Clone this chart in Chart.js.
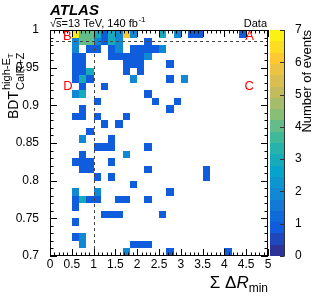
<!DOCTYPE html>
<html>
<head>
<meta charset="utf-8">
<script src="https://cdn.jsdelivr.net/npm/chart.js@4.4.1/dist/chart.umd.min.js"></script>
<style>
  html, body { margin: 0; padding: 0; background: #fff; }
</style>
</head>
<body>
<canvas id="c" width="319" height="304"></canvas>
<script>
(() => {
  'use strict'

  const F = '"Liberation Sans", Arial, Helvetica, sans-serif'

  // binning of the histogram
  const xMin = 0, xMax = 5, xStep = 5 / 30
  const yMin = 0.7, yMax = 1, yStep = 0.01
  const zMax = 7

  // filled bins: column index, row index, number of events
  const binX = [
    3, 4, 5, 6, 7, 8, 9, 10, 11, 15, 17, 19, 20, 26,
    3, 4, 5, 6, 7, 8, 9, 13,
    3, 5, 6, 8, 9, 11, 12, 13, 14, 15,
    3, 4, 8, 9, 10, 11, 12, 13,
    3, 4, 10, 11, 12, 16,
    3, 4, 5, 10, 12,
    3, 4, 5, 11, 16, 18,
    4, 7,
    3, 4, 13,
    6, 14, 17,
    4, 16,
    3, 4, 6, 10,
    7, 9,
    5,
    4, 8,
    6, 7, 8, 13,
    4, 10,
    3, 4, 5, 8,
    4, 5, 13, 21,
    6, 8, 21,
    11,
    3, 6, 16,
    3, 4, 5, 6, 9, 10, 13,
    3,
    7, 8, 9, 15,
    3,
    3, 4,
    4, 11, 12, 13,
    10, 16, 24
  ]
  const binY = [
    29, 29, 29, 29, 29, 29, 29, 29, 29, 29, 29, 29, 29, 29,
    28, 28, 28, 28, 28, 28, 28, 28,
    27, 27, 27, 27, 27, 27, 27, 27, 27, 27,
    26, 26, 26, 26, 26, 26, 26, 26,
    25, 25, 25, 25, 25, 25,
    24, 24, 24, 24, 24,
    23, 23, 23, 23, 23, 23,
    22, 22,
    21, 21, 21,
    20, 20, 20,
    19, 19,
    18, 18, 18, 18,
    17, 17,
    16,
    15, 15,
    14, 14, 14, 14,
    13, 13,
    12, 12, 12, 12,
    11, 11, 11, 11,
    10, 10, 10,
    9,
    8, 8, 8,
    7, 7, 7, 7, 7, 7, 7,
    6,
    5, 5, 5, 5,
    4,
    2, 2,
    1, 1, 1, 1,
    0, 0, 0
  ]
  const nEvents = [
    7, 4, 4, 3, 1, 3, 2, 6, 2, 3, 2, 1, 1, 1,
    2, 4, 4, 2, 1, 3, 2, 1,
    2, 1, 1, 1, 2, 1, 1, 1, 1, 2,
    1, 1, 1, 1, 1, 1, 1, 2,
    1, 1, 1, 1, 1, 1,
    1, 1, 3, 1, 1,
    1, 3, 1, 2, 1, 2,
    1, 1,
    2, 3, 1,
    1, 1, 1,
    1, 1,
    1, 1, 1, 1,
    1, 1,
    1,
    2, 1,
    1, 1, 1, 1,
    1, 2,
    1, 1, 1, 1,
    1, 1, 1, 1,
    1, 1, 1,
    1,
    2, 2, 1,
    1, 3, 1, 1, 1, 1, 1,
    1,
    1, 1, 1, 1,
    1,
    1, 2,
    2, 1, 1, 1,
    2, 1, 1
  ]

  // region labels
  const regionNames = ['A', 'B', 'C', 'D']
  const regionX = [4.58, 0.4, 4.57, 0.41]
  const regionY = [0.991, 0.991, 0.925, 0.925]

  // ROOT kBird palette
  const bird = [
    [0.2082, 0.1664, 0.5293], [0.0592, 0.3599, 0.8684], [0.0780, 0.5041, 0.8385],
    [0.0232, 0.6419, 0.7914], [0.1802, 0.7178, 0.6425], [0.5301, 0.7492, 0.4662],
    [0.8186, 0.7328, 0.3499], [0.9956, 0.7862, 0.1968], [0.9764, 0.9832, 0.0539]
  ]
  const nLevels = 20
  function birdColor (f) {
    f = Math.min(1, Math.max(0, f))
    const p = f * 8
    const k = Math.min(7, Math.floor(p))
    const t = p - k
    const a = bird[k], b = bird[k + 1]
    return 'rgb(' + [0, 1, 2].map(c => Math.round(255 * (a[c] + (b[c] - a[c]) * t))).join(',') + ')'
  }
  function levelColor (v) {
    const lvl = Math.min(nLevels - 1, Math.floor(v / zMax * nLevels - 1e-9))
    return birdColor((lvl + 0.5) / nLevels)
  }

  const points = binX.map((i, k) => ({
    x: xMin + (i + 0.5) * xStep,
    y: yMin + (binY[k] + 0.5) * yStep,
    v: nEvents[k]
  }))

  const fmt = v => String(+(+v).toFixed(2))

  const heatmap = {
    id: 'heatmap',
    beforeDatasetsDraw (chart) {
      const { ctx, scales: { x, y } } = chart
      ctx.save()
      chart.data.datasets[0].data.forEach(p => {
        const x0 = Math.round(x.getPixelForValue(p.x - xStep / 2))
        const x1 = Math.round(x.getPixelForValue(p.x + xStep / 2))
        const y0 = Math.round(y.getPixelForValue(p.y + yStep / 2))
        const y1 = Math.round(y.getPixelForValue(p.y - yStep / 2))
        ctx.fillStyle = levelColor(p.v)
        ctx.fillRect(x0, y0, x1 - x0, y1 - y0)
      })
      ctx.restore()
    },
    afterDraw (chart) {
      const { ctx, chartArea: a, scales: { x, y, cb } } = chart
      ctx.save()

      // dashed region boundaries
      ctx.strokeStyle = '#444'
      ctx.lineWidth = 1
      ctx.setLineDash([3, 3])
      const xd = Math.round(x.getPixelForValue(1)) + 0.5
      const yd = Math.round(y.getPixelForValue(0.985)) + 0.5
      ctx.beginPath()
      ctx.moveTo(xd, a.top); ctx.lineTo(xd, a.bottom)
      ctx.moveTo(a.left, yd); ctx.lineTo(a.right, yd)
      ctx.stroke()
      ctx.setLineDash([])

      // ticks on all four sides
      ctx.strokeStyle = '#000'
      ctx.beginPath()
      for (let k = 0; k <= 50; k++) {
        const px = Math.round(x.getPixelForValue(k * 0.1)) + 0.5
        const len = k % 5 === 0 ? 7 : 3.5
        ctx.moveTo(px, a.bottom); ctx.lineTo(px, a.bottom - len)
        ctx.moveTo(px, a.top); ctx.lineTo(px, a.top + len)
      }
      for (let k = 0; k <= 30; k++) {
        const py = Math.round(y.getPixelForValue(0.7 + k * 0.01)) + 0.5
        const len = k % 5 === 0 ? 7 : 3.5
        ctx.moveTo(a.left, py); ctx.lineTo(a.left + len, py)
        ctx.moveTo(a.right, py); ctx.lineTo(a.right - len, py)
      }
      ctx.stroke()
      ctx.strokeRect(a.left + 0.5, a.top + 0.5, a.right - a.left - 1, a.bottom - a.top - 1)

      // region letters
      ctx.fillStyle = '#ff0000'
      ctx.font = '13px ' + F
      ctx.textAlign = 'center'
      ctx.textBaseline = 'middle'
      regionNames.forEach((n, k) => {
        ctx.fillText(n, x.getPixelForValue(regionX[k]), y.getPixelForValue(regionY[k]))
      })

      // colour bar
      const bx0 = a.right + 2, bx1 = a.right + 16
      for (let k = 0; k < nLevels; k++) {
        const t0 = cb.getPixelForValue(k * zMax / nLevels)
        const t1 = cb.getPixelForValue((k + 1) * zMax / nLevels)
        ctx.fillStyle = birdColor((k + 0.5) / nLevels)
        ctx.fillRect(bx0, Math.round(t1), bx1 - bx0, Math.round(t0) - Math.round(t1))
      }
      ctx.strokeStyle = '#333'
      ctx.beginPath()
      ctx.moveTo(bx1 + 0.5, cb.top); ctx.lineTo(bx1 + 0.5, cb.bottom)
      for (let v = 0; v <= zMax; v++) {
        const py = Math.round(cb.getPixelForValue(v)) + 0.5
        ctx.moveTo(bx1 + 0.5, py); ctx.lineTo(bx1 - 4, py)
      }
      ctx.stroke()

      ctx.fillStyle = '#000'
      // z title
      ctx.save()
      ctx.translate(307, a.top)
      ctx.rotate(-Math.PI / 2)
      ctx.font = '13px ' + F
      ctx.textAlign = 'right'
      ctx.textBaseline = 'middle'
      ctx.fillText('Number of events', 0, 0)
      ctx.restore()

      // y title
      ctx.save()
      ctx.translate(14, 119)
      ctx.rotate(-Math.PI / 2)
      ctx.textAlign = 'left'
      ctx.textBaseline = 'middle'
      ctx.font = '14px ' + F
      ctx.fillText('BDT', 0, 0)
      const w = ctx.measureText('BDT').width + 1
      ctx.font = '11px ' + F
      ctx.fillText('high-E', w, -7)
      const w2 = ctx.measureText('high-E').width
      ctx.font = '8px ' + F
      ctx.fillText('T', w + w2, -3)
      ctx.font = '11px ' + F
      ctx.fillText('CalR+Z', w, 7)
      ctx.restore()

      // x title
      ctx.textBaseline = 'alphabetic'
      ctx.textAlign = 'left'
      const big = '17px ' + F, itBig = 'italic 17px ' + F, sub = '12px ' + F
      ctx.font = sub
      const wMin = ctx.measureText('min').width
      ctx.font = itBig
      const wR = ctx.measureText('R').width
      ctx.font = big
      const wD = ctx.measureText('\u0394').width
      const wS = ctx.measureText('\u03A3 ').width
      let px = a.right - wMin - wR - wD - wS
      ctx.fillText('\u03A3 ', px, 288); px += wS
      ctx.fillText('\u0394', px, 288); px += wD
      ctx.font = itBig
      ctx.fillText('R', px, 288); px += wR
      ctx.font = sub
      ctx.fillText('min', px, 292)

      // ATLAS label
      ctx.font = 'bold italic 15px ' + F
      ctx.fillText('ATLAS', 50, 15)
      ctx.font = '11px ' + F
      ctx.fillText('\u221A', 50, 27)
      let sx = 50 + ctx.measureText('\u221A').width
      const wsS = ctx.measureText('s').width
      ctx.fillText('s', sx, 27)
      ctx.beginPath()
      ctx.lineWidth = 1
      ctx.strokeStyle = '#000'
      ctx.moveTo(sx - 1, 18.5); ctx.lineTo(sx + wsS + 0.5, 18.5)
      ctx.stroke()
      sx += wsS
      const rest = '=13 TeV, 140 fb'
      ctx.fillText(rest, sx, 27)
      sx += ctx.measureText(rest).width
      ctx.font = '8px ' + F
      ctx.fillText('-1', sx + 0.5, 22)
      ctx.font = '11px ' + F
      ctx.textAlign = 'right'
      ctx.fillText('Data', 267, 27)

      ctx.restore()
    }
  }

  const tickFont = { family: F, size: 12 }

  // eslint-disable-next-line no-unused-vars
  const chart = new Chart(document.getElementById('c'), {
    type: 'scatter',
    data: {
      datasets: [{
        data: points,
        pointRadius: 0,
        pointHoverRadius: 0
      }]
    },
    options: {
      responsive: false,
      animation: false,
      events: [],
      layout: { padding: { top: 30, left: 0, right: 0, bottom: 0 } },
      plugins: {
        legend: { display: false },
        tooltip: { enabled: false }
      },
      scales: {
        x: {
          type: 'linear',
          min: xMin,
          max: xMax,
          grid: { display: false },
          border: { display: false },
          ticks: { stepSize: 0.5, color: '#000', font: tickFont, padding: -7, maxRotation: 0, autoSkip: false, callback: fmt },
          afterFit: s => { s.height = 48 }
        },
        y: {
          type: 'linear',
          min: yMin,
          max: yMax,
          grid: { display: false },
          border: { display: false },
          ticks: { stepSize: 0.05, color: '#000', font: tickFont, padding: 3, autoSkip: false, callback: fmt },
          afterFit: s => { s.width = 50 }
        },
        cb: {
          type: 'linear',
          position: 'right',
          min: 0,
          max: zMax,
          grid: { display: false },
          border: { display: false },
          ticks: { stepSize: 1, color: '#000', font: tickFont, padding: 19, autoSkip: false },
          afterFit: s => { s.width = 51 }
        }
      }
    },
    plugins: [heatmap]
  })
})()
</script>
</body>
</html>
